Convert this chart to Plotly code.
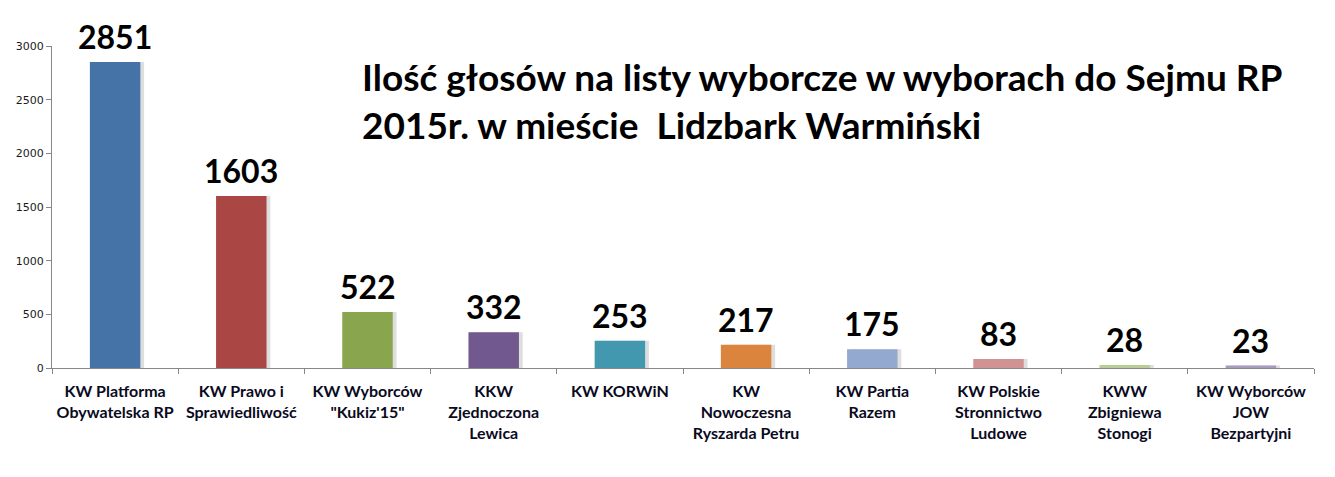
import plotly.graph_objects as go

categories = [
    "KW Platforma<br>Obywatelska RP",
    "KW Prawo i<br>Sprawiedliwość",
    "KW Wyborców<br>\"Kukiz'15\"",
    "KKW<br>Zjednoczona<br>Lewica",
    "KW KORWiN",
    "KW<br>Nowoczesna<br>Ryszarda Petru",
    "KW Partia<br>Razem",
    "KW Polskie<br>Stronnictwo<br>Ludowe",
    "KWW<br>Zbigniewa<br>Stonogi",
    "KW Wyborców<br>JOW<br>Bezpartyjni",
]
votes = [2851, 1603, 522, 332, 253, 217, 175, 83, 28, 23]
colors = ["#4572A7", "#AA4643", "#89A54E", "#71588F", "#4198AF",
          "#DB843D", "#93A9CF", "#D19392", "#B9CD96", "#A99BBD"]
y_ticks = [0, 500, 1000, 1500, 2000, 2500, 3000]
title_text = "Ilość głosów na listy wyborcze w wyborach do Sejmu RP<br>2015r. w mieście  Lidzbark Warmiński"

FONT = "Lato"

fig = go.Figure()
# subtle shadow
fig.add_trace(go.Bar(
    x=categories, y=votes, width=0.4, offset=-0.2 + 0.03,
    marker=dict(color="rgba(0,0,0,0.13)", line=dict(width=0)),
    hoverinfo="skip", showlegend=False,
))
fig.add_trace(go.Bar(
    x=categories, y=votes, width=0.4, offset=-0.2,
    marker=dict(color=colors, line=dict(width=0)),
    showlegend=False,
))

annotations = [dict(
    text="<b>" + title_text + "</b>", xref="paper", yref="paper",
    x=(360 - 52) / 1262, y=1.0 - (52 - 46) / 322, xanchor="left", yanchor="top",
    align="left", showarrow=False,
    font=dict(family=FONT, size=37, color="#000000"),
)]
for c, v in zip(categories, votes):
    annotations.append(dict(
        x=c, y=v, xref="x", yref="y", text="<b>%d</b>" % v,
        showarrow=False, xanchor="center", yanchor="bottom", yshift=4,
        font=dict(family=FONT, size=32, color="#000000"),
    ))

fig.update_layout(
    width=1327, height=469,
    margin=dict(l=44, r=21, t=38, b=109, autoexpand=False),
    paper_bgcolor="white", plot_bgcolor="white",
    barmode="overlay",
    annotations=annotations,
)
fig.update_xaxes(
    type="category", showline=True, linecolor="#878787", linewidth=1,
    ticks="outside", tickson="boundaries", ticklen=5, tickcolor="#878787",
    tickfont=dict(family=FONT, size=16, color="#0a0a1e"),
    ticklabelstandoff=9, tickangle=0, automargin=False,
    showgrid=False, range=[-0.5, 9.5],
    tickvals=categories, ticktext=["<b>" + c + "</b>" for c in categories],
)
fig.update_yaxes(
    range=[0, 3000], tickvals=y_ticks, showline=True, linecolor="#878787",
    linewidth=1, ticks="outside", ticklen=5, tickcolor="#878787",
    tickfont=dict(family="DejaVu Sans", size=11, color="#1a1a1a"),
    showgrid=False, zeroline=False, automargin=False,
)

fig.write_html("out.html")
